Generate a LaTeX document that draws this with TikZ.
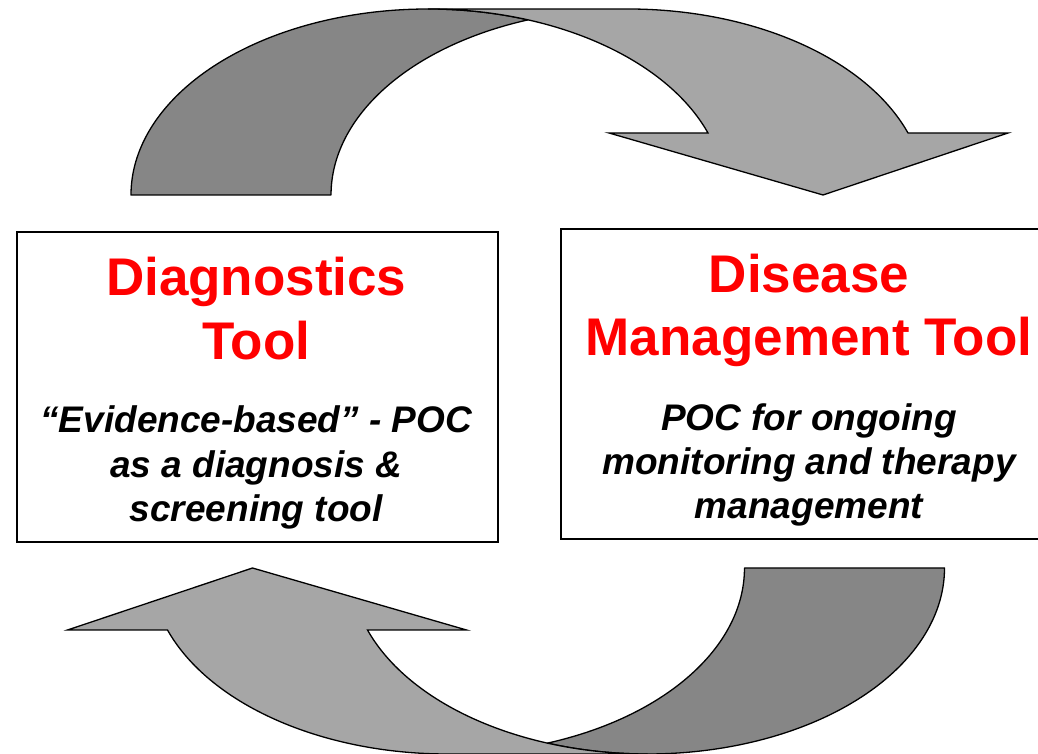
\documentclass[tikz,border=0pt]{standalone}
\usepackage{fontspec}
\setmainfont{Liberation Sans}
\definecolor{bandDark}{RGB}{134,134,134}
\definecolor{bandLight}{RGB}{166,166,166}
\definecolor{titleRed}{RGB}{255,0,0}

% One curved ribbon arrow: the back band rises on the left,
% the front band runs over the top and ends in a downward head.
\newcommand\curvedband{%
  \path[back band] (131,559)
    arc[start angle=180,end angle=70.32,x radius=297,y radius=186]
    arc[start angle=109.68,end angle=180,x radius=297,y radius=186] -- cycle;
  \path[front band] (823,559) -- (609,621) -- (708,621)
    arc[start angle=19.47,end angle=90,x radius=297,y radius=186] -- (628,745)
    arc[start angle=90,end angle=19.47,x radius=297,y radius=186]
    -- (1008,621) -- cycle;
}

\begin{document}
\begin{tikzpicture}[x=1pt,y=1pt,
  back band/.style={fill=bandDark,draw=black,line width=1.3pt,line join=round},
  front band/.style={fill=bandLight,draw=black,line width=1.3pt,line join=miter},
  toolbox/.style={draw=black,line width=2pt,fill=white,inner sep=0pt,anchor=south west},
  heading/.style={text=titleRed,font=\fontsize{53}{64}\selectfont\bfseries,anchor=base,inner sep=0pt},
  blurb/.style={text=black,font=\fontsize{37}{44}\selectfont\bfseries\itshape,anchor=base,inner sep=0pt}]
\useasboundingbox (0,0) rectangle (1038,754);
\clip (0,0) rectangle (1038,754);

% upper arrow, and the same arrow turned half a turn below
\curvedband
\begin{scope}[rotate around={180:(537.75,372.5)}]
  \curvedband
\end{scope}

% the two boxes
\node[toolbox,minimum width=481.5pt,minimum height=309.8pt] (diag) at (15.5,210.7) {};
\node[toolbox,minimum width=498pt,minimum height=310pt] (mgmt) at (560,214) {};

% left box text
\node[heading] (diagA) at (256.25,458) {Diagnostics};
\node[heading] (diagB) at (256.25,394) {Tool};
\node[blurb] (diagC) at (256.25,321) {“Evidence-based” - POC};
\node[blurb] (diagD) at (256.25,276) {as a diagnosis \&};
\node[blurb] (diagE) at (256.25,232) {screening tool};

% right box text
\node[heading] (mgmtA) at (809,461.3) {Disease};
\node[heading] (mgmtB) at (809,398) {Management Tool};
\node[blurb] (mgmtC) at (809,323) {POC for ongoing};
\node[blurb] (mgmtD) at (809,279) {monitoring and therapy};
\node[blurb] (mgmtE) at (809,235.7) {management};
\end{tikzpicture}
\end{document}
